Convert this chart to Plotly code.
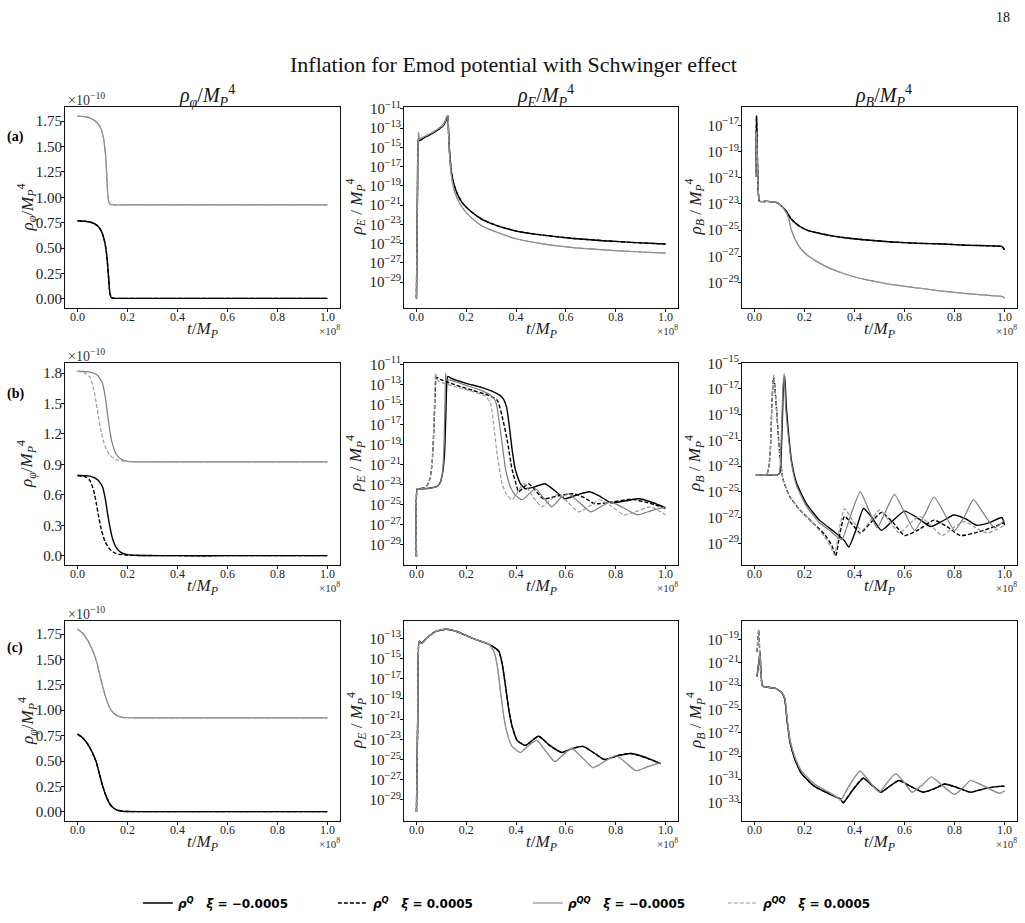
import plotly.graph_objects as go

W, H = 1025, 923

# ---------------- data (time in units of 1e8 M_P^-1) ----------------
# Row (a): rho_phi in units of 1e-10
a_phi_t = [0, 0.03, 0.06, 0.08, 0.095, 0.105, 0.112, 0.117, 0.121, 0.125, 0.128, 0.132, 0.136, 0.15, 0.2, 0.4, 0.6, 0.8, 1.0]
a_phi_QQ = [1.80, 1.795, 1.77, 1.73, 1.67, 1.57, 1.42, 1.22, 1.03, 0.96, 0.94, 0.93, 0.927, 0.925, 0.925, 0.925, 0.925, 0.925, 0.925]
a_phi_Q = [0.77, 0.765, 0.75, 0.72, 0.67, 0.60, 0.52, 0.43, 0.32, 0.19, 0.09, 0.03, 0.01, 0.005, 0.005, 0.005, 0.005, 0.005, 0.005]

# Row (a): log10(rho_E)
a_E_t = [0, 0.004, 0.008, 0.012, 0.03, 0.06, 0.09, 0.105, 0.115, 0.122, 0.126, 0.129, 0.133, 0.14, 0.15, 0.165, 0.185, 0.22, 0.265, 0.32, 0.4, 0.5, 0.62, 0.75, 0.88, 1.0]
a_E_Q = [-30.7, -20.0, -14.2, -14.3, -14.0, -13.6, -13.1, -12.8, -12.4, -11.9, -11.7, -13.5, -15.5, -17.5, -18.8, -19.9, -20.8, -21.7, -22.5, -23.1, -23.7, -24.1, -24.45, -24.7, -24.9, -25.05]
a_E_QQ = [-30.7, -20.0, -13.4, -14.1, -13.9, -13.5, -13.0, -12.7, -12.3, -11.8, -11.7, -13.7, -15.8, -17.9, -19.3, -20.4, -21.3, -22.3, -23.2, -23.8, -24.5, -25.0, -25.4, -25.65, -25.85, -26.0]

# Row (a): log10(rho_B)
a_B_t = [0.005, 0.008, 0.011, 0.015, 0.02, 0.05, 0.09, 0.11, 0.125, 0.135, 0.145, 0.16, 0.18, 0.21, 0.25, 0.3, 0.37, 0.45, 0.55, 0.65, 0.75, 0.85, 0.95, 0.99, 1.0]
a_B_Q = [-20.9, -16.3, -19.0, -22.0, -22.8, -22.8, -22.9, -23.2, -23.5, -23.8, -24.1, -24.4, -24.7, -25.0, -25.2, -25.4, -25.6, -25.75, -25.9, -26.0, -26.05, -26.15, -26.2, -26.25, -26.5]
a_B_QQ = [-20.9, -17.5, -19.5, -22.0, -22.8, -22.8, -22.9, -23.2, -23.6, -24.0, -24.8, -25.6, -26.3, -26.9, -27.4, -27.9, -28.4, -28.8, -29.15, -29.4, -29.65, -29.85, -30.0, -30.05, -30.2]

# Row (b): rho_phi in units of 1e-10
b_phi_t_late = [0, 0.05, 0.08, 0.10, 0.112, 0.12, 0.13, 0.14, 0.155, 0.175, 0.2, 0.25, 0.4, 0.6, 0.8, 1.0]
b_phi_Qn = [0.79, 0.785, 0.75, 0.68, 0.55, 0.42, 0.28, 0.17, 0.08, 0.03, 0.01, 0.002, 0.0, 0.0, 0.0, 0.0]
b_phi_QQn = [1.82, 1.81, 1.78, 1.70, 1.55, 1.40, 1.22, 1.10, 1.00, 0.95, 0.93, 0.925, 0.925, 0.925, 0.925, 0.925]
b_phi_t_early = [0, 0.03, 0.05, 0.065, 0.075, 0.085, 0.095, 0.11, 0.13, 0.155, 0.2, 0.4, 0.6, 0.8, 1.0]
b_phi_Qp = [0.79, 0.78, 0.74, 0.64, 0.52, 0.38, 0.26, 0.14, 0.06, 0.02, 0.005, 0.0, 0.0, 0.0, 0.0]
b_phi_QQp = [1.82, 1.80, 1.76, 1.64, 1.50, 1.35, 1.22, 1.08, 0.99, 0.945, 0.93, 0.925, 0.925, 0.925, 0.925]

# Row (b): log10(rho_E)
b_E_t_Qn = [0, 0.003, 0.01, 0.05, 0.08, 0.095, 0.105, 0.113, 0.118, 0.122, 0.126, 0.14, 0.2, 0.26, 0.305, 0.335, 0.35, 0.362, 0.372, 0.384, 0.397, 0.417, 0.437, 0.475, 0.516, 0.556, 0.596, 0.645, 0.695, 0.74, 0.78, 0.84, 0.894, 0.95, 1.0]
b_E_Qn = [-30.2, -23.4, -23.4, -23.35, -23.2, -22.8, -21.8, -19.8, -16.0, -12.8, -12.2, -12.4, -12.9, -13.3, -13.7, -14.1, -14.5, -15.3, -17.0, -19.5, -21.5, -22.9, -23.4, -23.2, -22.9, -23.6, -24.4, -24.0, -23.7, -24.2, -24.8, -24.6, -24.4, -24.8, -25.3]
b_E_t_Qp = [0, 0.003, 0.01, 0.03, 0.045, 0.055, 0.063, 0.07, 0.075, 0.08, 0.095, 0.15, 0.225, 0.29, 0.325, 0.344, 0.364, 0.384, 0.404, 0.41, 0.45, 0.51, 0.57, 0.63, 0.675, 0.715, 0.79, 0.86, 0.93, 1.0]
b_E_Qp = [-30.2, -23.4, -23.4, -23.3, -23.0, -22.3, -20.8, -17.5, -14.0, -12.3, -12.5, -13.0, -13.6, -14.1, -14.6, -16.2, -18.5, -21.5, -23.3, -23.7, -22.9, -24.4, -24.1, -23.9, -24.3, -24.9, -24.7, -24.45, -24.8, -25.35]
b_E_t_QQn = [0, 0.003, 0.01, 0.05, 0.08, 0.095, 0.105, 0.11, 0.114, 0.117, 0.12, 0.14, 0.2, 0.26, 0.298, 0.318, 0.331, 0.344, 0.358, 0.377, 0.395, 0.425, 0.477, 0.51, 0.543, 0.58, 0.61, 0.655, 0.70, 0.74, 0.78, 0.83, 0.887, 0.94, 1.0]
b_E_QQn = [-30.2, -23.4, -23.4, -23.35, -23.2, -22.8, -21.8, -19.5, -15.5, -11.9, -12.5, -12.6, -13.1, -13.6, -14.1, -14.7, -16.5, -18.9, -21.5, -23.2, -24.0, -24.5, -23.4, -24.3, -25.2, -24.3, -23.9, -24.8, -25.7, -25.2, -24.7, -25.3, -26.0, -25.6, -25.2]
b_E_t_QQp = [0, 0.003, 0.01, 0.03, 0.045, 0.055, 0.063, 0.07, 0.074, 0.077, 0.085, 0.15, 0.225, 0.278, 0.298, 0.311, 0.325, 0.344, 0.36, 0.384, 0.43, 0.465, 0.503, 0.54, 0.57, 0.61, 0.65, 0.69, 0.735, 0.78, 0.834, 0.89, 0.94, 1.0]
b_E_QQp = [-30.2, -23.4, -23.4, -23.3, -23.0, -22.3, -20.8, -17.0, -13.5, -11.9, -12.6, -13.2, -13.7, -14.2, -14.9, -17.2, -20.2, -22.9, -23.9, -24.5, -22.9, -24.1, -25.2, -24.5, -23.9, -24.8, -25.7, -25.2, -24.5, -25.1, -26.0, -25.6, -25.2, -26.0]

# Row (b): log10(rho_B)
b_B_t_Qn = [0.005, 0.05, 0.09, 0.102, 0.107, 0.112, 0.116, 0.121, 0.127, 0.135, 0.148, 0.168, 0.207, 0.26, 0.325, 0.36, 0.377, 0.405, 0.436, 0.47, 0.508, 0.55, 0.6, 0.65, 0.705, 0.75, 0.797, 0.845, 0.889, 0.94, 0.99, 1.0]
b_B_Qn = [-23.7, -23.7, -23.7, -23.5, -22.0, -19.0, -16.8, -16.0, -18.3, -20.2, -22.6, -24.3, -25.9, -27.2, -28.2, -28.8, -29.3, -28.0, -26.3, -27.0, -28.0, -27.3, -26.5, -27.0, -27.7, -27.3, -26.8, -27.1, -27.6, -27.4, -27.0, -27.6]
b_B_t_Qp = [0.005, 0.03, 0.05, 0.058, 0.064, 0.069, 0.074, 0.077, 0.082, 0.089, 0.095, 0.102, 0.115, 0.142, 0.181, 0.233, 0.28, 0.31, 0.325, 0.34, 0.36, 0.39, 0.423, 0.465, 0.508, 0.555, 0.6, 0.66, 0.718, 0.77, 0.823, 0.9, 0.96, 1.0]
b_B_Qp = [-23.7, -23.7, -23.6, -23.0, -21.5, -18.5, -16.5, -16.1, -17.0, -18.8, -20.6, -22.3, -24.1, -25.4, -26.4, -27.4, -28.3, -29.2, -30.0, -28.4, -26.9, -27.5, -28.2, -27.4, -26.6, -27.4, -28.4, -27.9, -27.2, -27.7, -28.4, -28.1, -27.7, -27.4]
b_B_t_QQn = [0.005, 0.05, 0.09, 0.1, 0.105, 0.11, 0.115, 0.119, 0.125, 0.135, 0.148, 0.168, 0.207, 0.26, 0.3, 0.33, 0.35, 0.385, 0.423, 0.455, 0.49, 0.525, 0.56, 0.6, 0.64, 0.68, 0.718, 0.76, 0.8, 0.84, 0.876, 0.92, 0.96, 1.0]
b_B_QQn = [-23.7, -23.7, -23.7, -23.5, -22.0, -19.0, -16.5, -15.8, -18.5, -20.6, -22.8, -24.5, -26.1, -27.4, -28.0, -28.5, -28.7, -26.8, -25.0, -26.3, -27.8, -26.5, -25.2, -26.6, -28.0, -26.8, -25.4, -26.7, -28.0, -26.9, -25.6, -26.8, -27.8, -27.2]
b_B_t_QQp = [0.005, 0.03, 0.05, 0.058, 0.064, 0.069, 0.074, 0.077, 0.082, 0.089, 0.095, 0.102, 0.115, 0.142, 0.181, 0.233, 0.28, 0.305, 0.32, 0.34, 0.36, 0.395, 0.43, 0.465, 0.5, 0.54, 0.58, 0.62, 0.66, 0.705, 0.75, 0.795, 0.84, 0.885, 0.93, 0.97, 1.0]
b_B_QQp = [-23.7, -23.7, -23.6, -23.0, -21.5, -18.5, -16.3, -15.9, -17.0, -18.8, -20.6, -22.3, -24.1, -25.4, -26.4, -27.4, -28.5, -29.3, -29.9, -27.8, -26.3, -27.3, -28.0, -27.2, -26.4, -27.3, -28.2, -27.5, -26.9, -27.6, -28.4, -27.8, -27.3, -27.8, -28.2, -27.9, -27.6]

# Row (c): rho_phi in units of 1e-10
c_phi_t = [0, 0.02, 0.04, 0.06, 0.075, 0.088, 0.1, 0.115, 0.13, 0.145, 0.16, 0.18, 0.2, 0.25, 0.4, 0.6, 0.8, 1.0]
c_phi_QQ = [1.80, 1.76, 1.69, 1.59, 1.49, 1.36, 1.24, 1.11, 1.02, 0.97, 0.945, 0.93, 0.926, 0.925, 0.925, 0.925, 0.925, 0.925]
c_phi_Q = [0.765, 0.73, 0.67, 0.58, 0.49, 0.37, 0.26, 0.15, 0.075, 0.035, 0.016, 0.006, 0.003, 0.002, 0.002, 0.002, 0.002, 0.002]

# Row (c): log10(rho_E)
c_E_t_Q = [0, 0.005, 0.011, 0.02, 0.04, 0.08, 0.119, 0.159, 0.225, 0.291, 0.318, 0.331, 0.344, 0.358, 0.371, 0.384, 0.404, 0.437, 0.49, 0.535, 0.583, 0.625, 0.669, 0.71, 0.755, 0.81, 0.861, 0.92, 0.98]
c_E_Q = [-30.2, -21.0, -13.3, -13.5, -13.0, -12.3, -12.1, -12.3, -13.0, -13.6, -14.0, -14.3, -15.5, -17.8, -20.1, -21.7, -23.1, -23.6, -22.7, -23.6, -24.3, -23.9, -23.7, -24.3, -25.0, -24.6, -24.4, -24.8, -25.4]
c_E_t_QQ = [0, 0.005, 0.011, 0.02, 0.04, 0.08, 0.119, 0.159, 0.225, 0.291, 0.311, 0.325, 0.338, 0.351, 0.364, 0.384, 0.417, 0.45, 0.483, 0.52, 0.556, 0.59, 0.623, 0.665, 0.709, 0.755, 0.801, 0.84, 0.881, 0.93, 0.98]
c_E_QQ = [-30.2, -21.0, -13.3, -13.5, -13.0, -12.3, -12.1, -12.3, -13.0, -13.6, -14.3, -15.8, -18.4, -20.8, -22.4, -23.7, -24.3, -23.6, -23.1, -24.2, -25.2, -24.5, -23.9, -24.8, -25.8, -25.2, -24.6, -25.3, -26.1, -25.7, -25.3]

# Row (c): log10(rho_B)
c_B_t_Q = [0.01, 0.017, 0.022, 0.032, 0.05, 0.084, 0.11, 0.121, 0.13, 0.143, 0.162, 0.188, 0.24, 0.305, 0.344, 0.355, 0.39, 0.435, 0.47, 0.506, 0.54, 0.578, 0.625, 0.675, 0.72, 0.76, 0.81, 0.864, 0.92, 0.98, 1.0]
c_B_Qn = [-22.2, -21.0, -20.1, -23.0, -23.1, -23.2, -23.6, -24.1, -25.9, -27.9, -29.3, -30.5, -31.6, -32.3, -32.7, -33.0, -32.0, -30.9, -31.5, -32.1, -31.6, -31.1, -31.6, -32.1, -31.8, -31.4, -31.7, -32.1, -31.8, -31.6, -31.6]
c_B_Qp = [-20.1, -18.2, -20.8, -23.0, -23.1, -23.2, -23.6, -24.1, -25.9, -27.9, -29.3, -30.5, -31.6, -32.3, -32.7, -33.0, -32.0, -30.9, -31.5, -32.1, -31.6, -31.1, -31.6, -32.1, -31.8, -31.4, -31.7, -32.1, -31.8, -31.6, -31.6]
c_B_t_QQ = [0.01, 0.017, 0.022, 0.032, 0.05, 0.084, 0.11, 0.121, 0.13, 0.143, 0.162, 0.188, 0.24, 0.305, 0.335, 0.344, 0.38, 0.422, 0.46, 0.5, 0.53, 0.565, 0.6, 0.63, 0.67, 0.708, 0.75, 0.8, 0.835, 0.864, 0.92, 0.98, 1.0]
c_B_QQn = [-22.2, -21.0, -20.1, -23.0, -23.1, -23.2, -23.6, -24.0, -25.7, -27.7, -29.1, -30.3, -31.4, -32.2, -32.6, -32.8, -31.5, -30.3, -31.2, -32.1, -31.3, -30.5, -31.3, -32.1, -31.5, -30.8, -31.5, -32.3, -31.7, -31.1, -31.6, -32.2, -32.0]
c_B_QQp = [-20.1, -18.2, -20.8, -23.0, -23.1, -23.2, -23.6, -24.0, -25.7, -27.7, -29.1, -30.3, -31.4, -32.2, -32.6, -32.8, -31.5, -30.3, -31.2, -32.1, -31.3, -30.5, -31.3, -32.1, -31.5, -30.8, -31.5, -32.3, -31.7, -31.1, -31.6, -32.2, -32.0]

# axis tick values
x_ticks = [0.0, 0.2, 0.4, 0.6, 0.8, 1.0]
phi_ticks_ac = [0.0, 0.25, 0.5, 0.75, 1.0, 1.25, 1.5, 1.75]
phi_ticks_b = [0.0, 0.3, 0.6, 0.9, 1.2, 1.5, 1.8]
log_ticks = {
    'aE': [-11, -13, -15, -17, -19, -21, -23, -25, -27, -29],
    'aB': [-17, -19, -21, -23, -25, -27, -29],
    'bE': [-11, -13, -15, -17, -19, -21, -23, -25, -27, -29],
    'bB': [-15, -17, -19, -21, -23, -25, -27, -29],
    'cE': [-13, -15, -17, -19, -21, -23, -25, -27, -29],
    'cB': [-19, -21, -23, -25, -27, -29, -31, -33],
}
y_ranges = {
    'aphi': [-0.09, 1.89], 'aE': [-31.7, -10.8], 'aB': [-30.94, -15.6],
    'bphi': [-0.092, 1.90], 'bE': [-31.0, -10.87], 'bB': [-30.69, -14.98],
    'cphi': [-0.09, 1.878], 'cE': [-31.08, -11.29], 'cB': [-34.57, -17.43],
}

# ---------------- styling ----------------
SERIES = ['Q_neg', 'Q_pos', 'QQ_neg', 'QQ_pos']
STYLE = {
    'Q_neg': dict(color='#000000', width=1.4, dash='solid'),
    'Q_pos': dict(color='#000000', width=1.4, dash='4px,2px'),
    'QQ_neg': dict(color='#7c7c7c', width=1.2, dash='solid'),
    'QQ_pos': dict(color='#9a9a9a', width=1.2, dash='4px,2px'),
}
NAMES = {
    'Q_neg': '<b><i>ρ</i><sup><i>Q</i></sup>   <i>ξ</i> = −0.0005</b>',
    'Q_pos': '<b><i>ρ</i><sup><i>Q</i></sup>   <i>ξ</i> = 0.0005</b>',
    'QQ_neg': '<b><i>ρ</i><sup><i>QQ</i></sup>   <i>ξ</i> = −0.0005</b>',
    'QQ_pos': '<b><i>ρ</i><sup><i>QQ</i></sup>   <i>ξ</i> = 0.0005</b>',
}

panels = [
    ('aphi', 0, 0, False, {'Q_neg': (a_phi_t, a_phi_Q), 'Q_pos': (a_phi_t, a_phi_Q),
                           'QQ_neg': (a_phi_t, a_phi_QQ), 'QQ_pos': (a_phi_t, a_phi_QQ)}),
    ('aE', 0, 1, True, {'Q_neg': (a_E_t, a_E_Q), 'Q_pos': (a_E_t, a_E_Q),
                        'QQ_neg': (a_E_t, a_E_QQ), 'QQ_pos': (a_E_t, a_E_QQ)}),
    ('aB', 0, 2, True, {'Q_neg': (a_B_t, a_B_Q), 'Q_pos': (a_B_t, a_B_Q),
                        'QQ_neg': (a_B_t, a_B_QQ), 'QQ_pos': (a_B_t, a_B_QQ)}),
    ('bphi', 1, 0, False, {'Q_neg': (b_phi_t_late, b_phi_Qn), 'Q_pos': (b_phi_t_early, b_phi_Qp),
                           'QQ_neg': (b_phi_t_late, b_phi_QQn), 'QQ_pos': (b_phi_t_early, b_phi_QQp)}),
    ('bE', 1, 1, True, {'Q_neg': (b_E_t_Qn, b_E_Qn), 'Q_pos': (b_E_t_Qp, b_E_Qp),
                        'QQ_neg': (b_E_t_QQn, b_E_QQn), 'QQ_pos': (b_E_t_QQp, b_E_QQp)}),
    ('bB', 1, 2, True, {'Q_neg': (b_B_t_Qn, b_B_Qn), 'Q_pos': (b_B_t_Qp, b_B_Qp),
                        'QQ_neg': (b_B_t_QQn, b_B_QQn), 'QQ_pos': (b_B_t_QQp, b_B_QQp)}),
    ('cphi', 2, 0, False, {'Q_neg': (c_phi_t, c_phi_Q), 'Q_pos': (c_phi_t, c_phi_Q),
                           'QQ_neg': (c_phi_t, c_phi_QQ), 'QQ_pos': (c_phi_t, c_phi_QQ)}),
    ('cE', 2, 1, True, {'Q_neg': (c_E_t_Q, c_E_Q), 'Q_pos': (c_E_t_Q, c_E_Q),
                        'QQ_neg': (c_E_t_QQ, c_E_QQ), 'QQ_pos': (c_E_t_QQ, c_E_QQ)}),
    ('cB', 2, 2, True, {'Q_neg': (c_B_t_Q, c_B_Qn), 'Q_pos': (c_B_t_Q, c_B_Qp),
                        'QQ_neg': (c_B_t_QQ, c_B_QQn), 'QQ_pos': (c_B_t_QQ, c_B_QQp)}),
]

# panel boxes in pixels
COL_X = [(65, 340), (404, 678), (742, 1017)]
ROW_Y = [(107, 308), (363, 565), (621, 821)]

SERIF = 'Liberation Serif, Times New Roman, serif'
TICK_COLOR = '#222222'

def px(x):
    return x / W

def py(y):
    return 1 - y / H

fig = go.Figure()
layout = dict(
    width=W, height=H, autosize=False,
    margin=dict(l=0, r=0, t=0, b=0, pad=0, autoexpand=False),
    paper_bgcolor='white', plot_bgcolor='white',
    showlegend=True,
    legend=dict(orientation='h', x=0.515, xanchor='center', y=py(903), yanchor='middle',
                entrywidth=150, entrywidthmode='pixels',
                font=dict(family='DejaVu Sans, sans-serif', size=12, color='#000'),
                bgcolor='rgba(0,0,0,0)', itemwidth=30, tracegroupgap=0),
)

annotations = []

for idx, (key, r, c, is_log, series) in enumerate(panels):
    k = idx + 1
    xa = 'x' if k == 1 else f'x{k}'
    ya = 'y' if k == 1 else f'y{k}'
    for s in SERIES:
        t, v = series[s]
        yv = [10 ** e for e in v] if is_log else v
        fig.add_trace(go.Scatter(
            x=t, y=yv, xaxis=xa, yaxis=ya, mode='lines',
            line=dict(color=STYLE[s]['color'], width=STYLE[s]['width'],
                      dash=STYLE[s]['dash'], shape='spline', smoothing=0.5),
            name=NAMES[s], legendgroup=s, showlegend=(k == 1),
            hoverinfo='skip'))

    x0, x1 = COL_X[c]
    y0, y1 = ROW_Y[r]
    xkey = 'xaxis' if k == 1 else f'xaxis{k}'
    ykey = 'yaxis' if k == 1 else f'yaxis{k}'
    layout[xkey] = dict(
        domain=[px(x0), px(x1)], anchor=ya, range=[-0.05, 1.05], automargin=False,
        tickmode='array', tickvals=x_ticks, ticktext=[f'{v:.1f}' for v in x_ticks],
        showline=True, mirror=True, linecolor='#111', linewidth=1,
        ticks='outside', ticklen=3, tickcolor='#111', showgrid=False, zeroline=False,
        ticklabelstandoff=-5,
        tickfont=dict(family=SERIF, size=12, color=TICK_COLOR))
    common_y = dict(domain=[py(y1), py(y0)], anchor=xa, automargin=False,
                    showline=True, mirror=True, linecolor='#111', linewidth=1,
                    ticks='outside', ticklen=3, tickcolor='#111', showgrid=False, zeroline=False,
                    ticklabelstandoff=-4,
                    tickfont=dict(family=SERIF, size=15, color=TICK_COLOR))
    if is_log:
        tv = log_ticks[key]
        layout[ykey] = dict(type='log', range=y_ranges[key],
                            tickmode='array', tickvals=[10 ** e for e in tv],
                            ticktext=[f'10<sup>−{-e}</sup>' for e in tv], **common_y)
    else:
        tv = phi_ticks_b if key == 'bphi' else phi_ticks_ac
        fmt = '{:.1f}' if key == 'bphi' else '{:.2f}'
        layout[ykey] = dict(range=y_ranges[key], tickmode='array', tickvals=tv,
                            ticktext=[fmt.format(v) for v in tv], **common_y)

    # x-axis title and multiplier
    annotations.append(dict(text='<i>t</i>/<i>M<sub>P</sub></i>', x=px((x0 + x1) / 2), y=py(y1 + 22),
                            xref='paper', yref='paper', showarrow=False, xanchor='center', yanchor='middle',
                            font=dict(family=SERIF, size=17, color='#222')))
    annotations.append(dict(text='×10<sup>8</sup>', x=px(x1 + 2), y=py(y1 + 22),
                            xref='paper', yref='paper', showarrow=False, xanchor='right', yanchor='middle',
                            font=dict(family=SERIF, size=11, color='#333')))
    # y-axis titles
    if c == 0:
        ytxt = '<i>ρ<sub>φ</sub></i>/<i>M</i><sub><i>P</i></sub><sup>4</sup>'
        yx = 27
    elif c == 1:
        ytxt = '<i>ρ<sub>E</sub></i> / <i>M</i><sub><i>P</i></sub><sup>4</sup>'
        yx = 356
    else:
        ytxt = '<i>ρ<sub>B</sub></i> / <i>M</i><sub><i>P</i></sub><sup>4</sup>'
        yx = 695
    annotations.append(dict(text=ytxt, x=px(yx), y=py((y0 + y1) / 2), textangle=-90,
                            xref='paper', yref='paper', showarrow=False, xanchor='center', yanchor='middle',
                            font=dict(family=SERIF, size=17, color='#222')))
    if c == 0:
        annotations.append(dict(text='×10<sup>−10</sup>', x=px(x0 + 1), y=py(y0 - 8),
                                xref='paper', yref='paper', showarrow=False, xanchor='left', yanchor='middle',
                                font=dict(family=SERIF, size=14, color='#333')))

# column titles
col_titles = ['<i>ρ<sub>φ</sub></i>/<i>M</i><sub><i>P</i></sub><sup>4</sup>',
              '<i>ρ<sub>E</sub></i>/<i>M</i><sub><i>P</i></sub><sup>4</sup>',
              '<i>ρ<sub>B</sub></i>/<i>M</i><sub><i>P</i></sub><sup>4</sup>']
for (x0, x1), txt in zip(COL_X, col_titles):
    annotations.append(dict(text=txt, x=px((x0 + x1) / 2 + 4), y=py(96),
                            xref='paper', yref='paper', showarrow=False, xanchor='center', yanchor='middle',
                            font=dict(family=SERIF, size=20, color='#111')))

# row labels
for lab, yy in zip(['(a)', '(b)', '(c)'], [137, 394, 648]):
    annotations.append(dict(text=f'<b>{lab}</b>', x=px(15), y=py(yy),
                            xref='paper', yref='paper', showarrow=False, xanchor='center', yanchor='middle',
                            font=dict(family=SERIF, size=14, color='#000')))

# main title and page number
annotations.append(dict(text='Inflation for Emod potential with Schwinger effect', x=px(513), y=py(64),
                        xref='paper', yref='paper', showarrow=False, xanchor='center', yanchor='middle',
                        font=dict(family=SERIF, size=22, color='#111')))
annotations.append(dict(text='18', x=px(1003), y=py(17),
                        xref='paper', yref='paper', showarrow=False, xanchor='center', yanchor='middle',
                        font=dict(family=SERIF, size=14, color='#111')))

layout['annotations'] = annotations
fig.update_layout(**layout)
fig.write_html('out.html')
